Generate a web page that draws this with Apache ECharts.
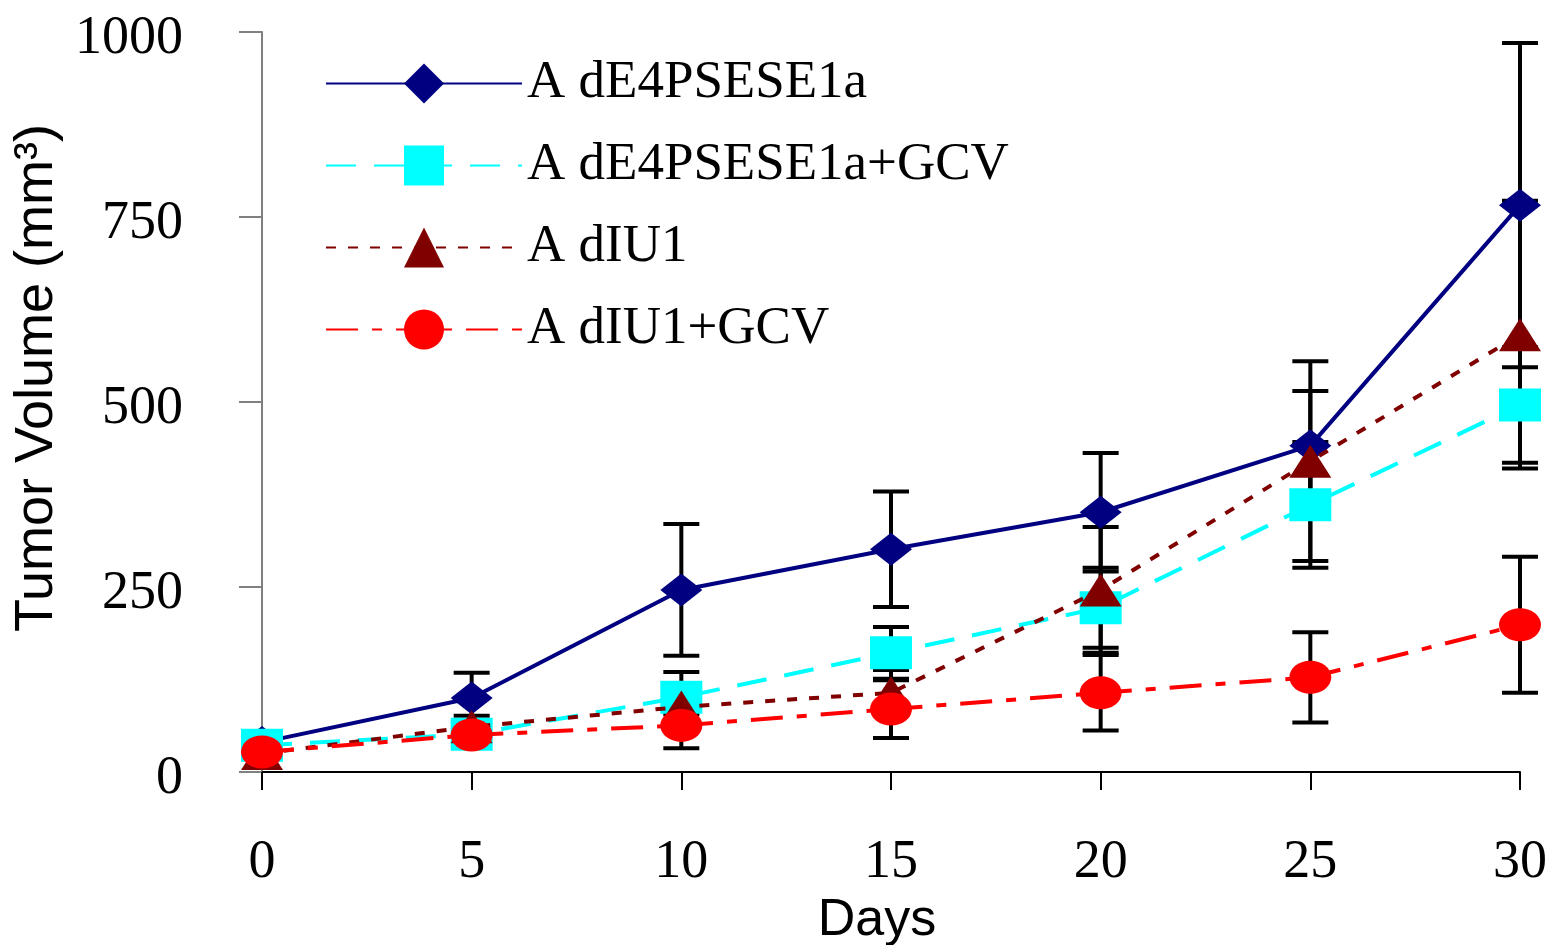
<!DOCTYPE html>
<html><head><meta charset="utf-8">
<script src="https://cdn.jsdelivr.net/npm/echarts@6/dist/echarts.min.js"></script>
<style>html,body{margin:0;padding:0;background:#fff}#c{width:1555px;height:945px}</style>
</head><body><div id="c"></div>
<script>
const days = [0, 5, 10, 15, 20, 25, 30];
const seriesNames = ['A dE4PSESE1a', 'A dE4PSESE1a+GCV', 'A dIU1', 'A dIU1+GCV'];
const adE4 = [40, 100, 246, 301, 351, 441, 766];
const adE4Err = [5, 34, 89, 78, 80, 74, 219];
const adE4Gcv = [36, 51, 101, 161, 222, 361, 496];
const adE4GcvErr = [5, 5, 34, 35, 54, 85, 78];
const adIU1 = [25, 61, 88, 107, 246, 420, 591];
const adIU1Err = [5, 15, 10, 31, 85, 135, 181];
const adIU1Gcv = [27, 50, 63, 85, 107, 128, 199];
const adIU1GcvErr = [5, 5, 31, 39, 51, 61, 92];
const yTicks = [0, 250, 500, 750, 1000];
const xTicks = [0, 5, 10, 15, 20, 25, 30];

const values = [adE4, adE4Gcv, adIU1, adIU1Gcv];
const errors = [adE4Err, adE4GcvErr, adIU1Err, adIU1GcvErr];
const colors = ['#000080', '#00FFFF', '#800000', '#FF0000'];
const symbols = ['diamond', 'rect', 'triangle', 'circle'];
const dashes = ['solid', [30, 18], [10, 12], [32, 14, 10, 14]];
const widths = [4, 4, 4, 4];

function errRender(params, api) {
  const x = api.value(0), y = api.value(1), e = api.value(2);
  const top = api.coord([x, y + e]), bot = api.coord([x, y - e]);
  const hw = 18;
  const st = { stroke: '#000', lineWidth: 4 };
  return { type: 'group', children: [
    { type: 'line', shape: { x1: top[0], y1: top[1], x2: bot[0], y2: bot[1] }, style: st },
    { type: 'line', shape: { x1: top[0] - hw, y1: top[1], x2: top[0] + hw, y2: top[1] }, style: st },
    { type: 'line', shape: { x1: bot[0] - hw, y1: bot[1], x2: bot[0] + hw, y2: bot[1] }, style: st }
  ]};
}

const series = [];
values.forEach((vals, i) => {
  series.push({
    name: 'err' + i, type: 'custom', z: 1, silent: true,
    renderItem: errRender,
    data: days.map((d, k) => [d, vals[k], errors[i][k]])
  });
});
values.forEach((vals, i) => {
  series.push({
    name: seriesNames[i], type: 'line', z: 3 + i,
    data: days.map((d, k) => [d, vals[k]]),
    symbol: symbols[i], symbolSize: [42, 33],
    itemStyle: { color: colors[i] },
    lineStyle: { color: colors[i], width: widths[i], type: dashes[i] },
    animation: false
  });
});

const chart = echarts.init(document.getElementById('c'));
chart.setOption({
  animation: false,
  backgroundColor: '#fff',
  grid: { left: 262, right: 35, top: 32, bottom: 173, containLabel: false, outerBoundsMode: 'none' },
  legend: {
    data: seriesNames, orient: 'vertical', left: 325, top: 57, padding: 0,
    itemWidth: 196, itemHeight: 50, itemGap: 29,
    textStyle: { fontFamily: 'Liberation Serif', fontSize: 53, color: '#000' }
  },
  xAxis: {
    type: 'value', min: xTicks[0], max: xTicks[xTicks.length - 1], interval: 5,
    name: 'Days', nameLocation: 'middle', nameGap: 105,
    nameTextStyle: { fontFamily: 'Liberation Sans', fontSize: 52, color: '#000', padding: [0, 28, 0, 0] },
    axisLine: { lineStyle: { color: '#000', width: 2 } },
    axisTick: { length: 18, lineStyle: { color: '#000', width: 2 } },
    axisLabel: { fontFamily: 'Liberation Serif', fontSize: 54, color: '#000', margin: 64, formatter: v => String(v) },
    splitLine: { show: false }
  },
  yAxis: {
    type: 'value', min: yTicks[0], max: yTicks[yTicks.length - 1], interval: 250,
    name: 'Tumor Volume (mm³)', nameLocation: 'middle', nameGap: 175, nameRotate: 90,
    nameTextStyle: { fontFamily: 'Liberation Sans', fontSize: 54, color: '#000', padding: [0, 0, 0, 48] },
    axisLine: { show: true, lineStyle: { color: '#808080', width: 2 } },
    axisTick: { show: true, length: 23, lineStyle: { color: '#808080', width: 2 } },
    axisLabel: {
      margin: 79, formatter: v => '{a|' + v + '}',
      rich: { a: { fontFamily: 'Liberation Serif', fontSize: 54, color: '#000', padding: [13, 0, 0, 0] } }
    },
    splitLine: { show: false }
  },
  series: series
});
</script></body></html>
